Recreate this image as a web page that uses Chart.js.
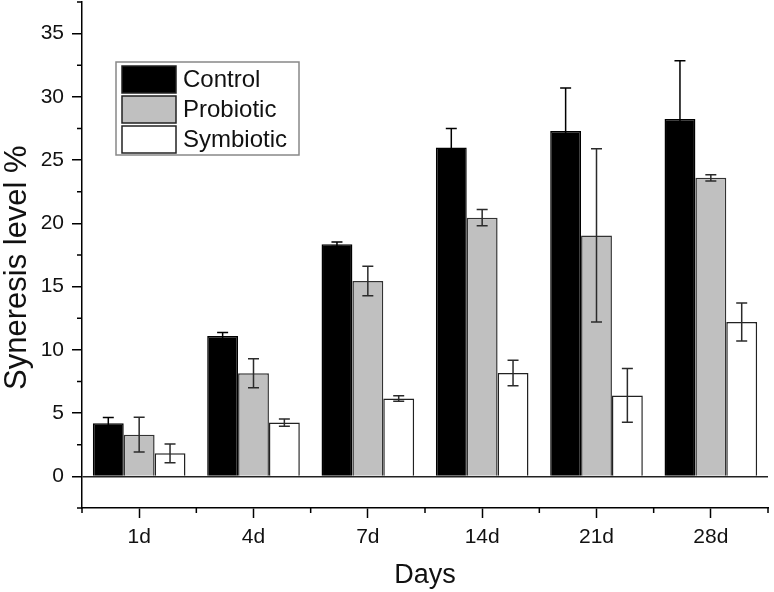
<!DOCTYPE html>
<html>
<head>
<meta charset="utf-8">
<title>Syneresis level</title>
<script src="https://cdn.jsdelivr.net/npm/chart.js@4.4.1/dist/chart.umd.min.js"></script>
<style>
    body { margin: 0; background: #fff; }
    #wrap { width: 774px; height: 592px; }
</style>
</head>
<body>
<div id="wrap"><canvas id="chart" width="774" height="592"></canvas></div>
<script>
// Data
const days = ['1d', '4d', '7d', '14d', '21d', '28d'];
const control = [4.2, 11.1, 18.35, 26.0, 27.3, 28.25];
const controlErr = [0.45, 0.27, 0.18, 1.5, 3.4, 4.6];
const probiotic = [3.3, 8.15, 15.45, 20.45, 19.05, 23.6];
const probioticErr = [1.38, 1.15, 1.17, 0.64, 6.85, 0.25];
const symbiotic = [1.82, 4.25, 6.15, 8.17, 6.4, 12.2];
const symbioticErr = [0.74, 0.28, 0.22, 1.0, 2.12, 1.5];
const yMajorTicks = [0, 5, 10, 15, 20, 25, 30, 35];
const yMinorTicks = [-2.5, 2.5, 7.5, 12.5, 17.5, 22.5, 27.5, 32.5, 37.5];
const yTitle = 'Syneresis level %';

const FONT = "'Liberation Sans', Arial, sans-serif";
Chart.defaults.font.family = FONT;
Chart.defaults.color = '#111';

// Error bars drawn on top of each bar
const errorBars = {
    id: 'errorBars',
    afterDatasetsDraw(chart) {
        const ctx = chart.ctx;
        const y = chart.scales.y;
        chart.data.datasets.forEach((ds, i) => {
            const meta = chart.getDatasetMeta(i);
            meta.data.forEach((bar, j) => {
                const v = ds.data[j];
                const e = ds.errors[j];
                const top = y.getPixelForValue(v + e);
                const bot = y.getPixelForValue(v - e);
                ctx.save();
                ctx.strokeStyle = i === 0 ? '#000' : '#2b2b2b';
                ctx.lineWidth = 1.5;
                ctx.beginPath();
                ctx.moveTo(bar.x, top);
                ctx.lineTo(bar.x, bot);
                ctx.moveTo(bar.x - 5.5, top);
                ctx.lineTo(bar.x + 5.5, top);
                ctx.moveTo(bar.x - 5.5, bot);
                ctx.lineTo(bar.x + 5.5, bot);
                ctx.stroke();
                ctx.restore();
            });
        });
    }
};

// Minor ticks on both axes, plus the y axis title (sits a bit below centre)
const axisExtras = {
    id: 'axisExtras',
    afterDraw(chart) {
        const ctx = chart.ctx;
        const x = chart.scales.x;
        const y = chart.scales.y;
        const area = chart.chartArea;
        ctx.save();
        ctx.strokeStyle = '#000';
        ctx.lineWidth = 1.5;
        ctx.beginPath();
        yMinorTicks.forEach(v => {
            const py = y.getPixelForValue(v);
            ctx.moveTo(area.left - 5, py);
            ctx.lineTo(area.left, py);
        });
        for (let i = 0; i <= days.length; i++) {
            const px = x.getPixelForValue(i - 0.5);
            ctx.moveTo(px, area.bottom);
            ctx.lineTo(px, area.bottom + 5);
        }
        ctx.stroke();

        ctx.translate(17, y.getPixelForValue(16.5));
        ctx.rotate(-Math.PI / 2);
        ctx.fillStyle = '#111';
        ctx.font = '31px ' + FONT;
        ctx.textAlign = 'center';
        ctx.textBaseline = 'middle';
        ctx.fillText(yTitle, 0, 0);
        ctx.restore();
    }
};

// Boxed legend inside the plot
const boxLegend = {
    id: 'boxLegend',
    afterDraw(chart) {
        const ctx = chart.ctx;
        const left = 116, top = 62, w = 183, h = 93;
        ctx.save();
        ctx.strokeStyle = '#888';
        ctx.lineWidth = 1.5;
        ctx.strokeRect(left, top, w, h);
        chart.data.datasets.forEach((ds, i) => {
            const sy = top + 4 + i * 30;
            ctx.fillStyle = ds.backgroundColor;
            ctx.fillRect(122, sy, 54, 27);
            ctx.strokeStyle = '#222';
            ctx.lineWidth = 1.5;
            ctx.strokeRect(122, sy, 54, 27);
            ctx.fillStyle = '#111';
            ctx.font = '24px ' + FONT;
            ctx.textBaseline = 'middle';
            ctx.fillText(ds.label, 183, sy + 14);
        });
        ctx.restore();
    }
};

new Chart(document.getElementById('chart').getContext('2d'), {
    type: 'bar',
    data: {
        labels: days,
        datasets: [
            {
                label: 'Control',
                data: control,
                errors: controlErr,
                backgroundColor: '#000000',
                borderColor: '#000000',
                borderWidth: 1.5
            },
            {
                label: 'Probiotic',
                data: probiotic,
                errors: probioticErr,
                backgroundColor: '#c0c0c0',
                borderColor: '#333333',
                borderWidth: 1.5
            },
            {
                label: 'Symbiotic',
                data: symbiotic,
                errors: symbioticErr,
                backgroundColor: '#ffffff',
                borderColor: '#222222',
                borderWidth: 1.5
            }
        ]
    },
    options: {
        responsive: false,
        animation: false,
        layout: { padding: { top: 2, right: 6, left: 0, bottom: 0 } },
        datasets: {
            bar: { barPercentage: 1, categoryPercentage: 0.81 }
        },
        plugins: {
            legend: { display: false },
            tooltip: { enabled: false }
        },
        scales: {
            x: {
                grid: {
                    display: true,
                    drawOnChartArea: false,
                    offset: false,
                    tickLength: 10,
                    tickColor: '#000',
                    tickWidth: 1.5
                },
                border: { display: true, color: '#000', width: 1.5 },
                ticks: { font: { size: 21 }, padding: 7, color: '#111' },
                title: {
                    display: true,
                    text: 'Days',
                    font: { size: 27 },
                    color: '#111',
                    padding: { top: 0, bottom: 0 }
                },
                afterFit(scale) { scale.height = 84; }
            },
            y: {
                min: -2.5,
                max: 37.5,
                afterBuildTicks(scale) {
                    scale.ticks = yMajorTicks.map(v => ({ value: v }));
                },
                grid: {
                    display: true,
                    drawOnChartArea: true,
                    color: c => (c.tick && c.tick.value === 0) ? '#222' : 'rgba(0,0,0,0)',
                    lineWidth: 1.5,
                    tickLength: 10,
                    tickColor: '#000',
                    tickWidth: 1.5
                },
                border: { display: true, color: '#000', width: 1.5 },
                ticks: { font: { size: 21 }, padding: 8, color: '#111' },
                title: { display: false },
                afterFit(scale) {
                    scale.width = 82;
                    scale.paddingTop = 0;
                    scale.paddingBottom = 0;
                }
            }
        }
    },
    plugins: [errorBars, axisExtras, boxLegend]
});
</script>
</body>
</html>
